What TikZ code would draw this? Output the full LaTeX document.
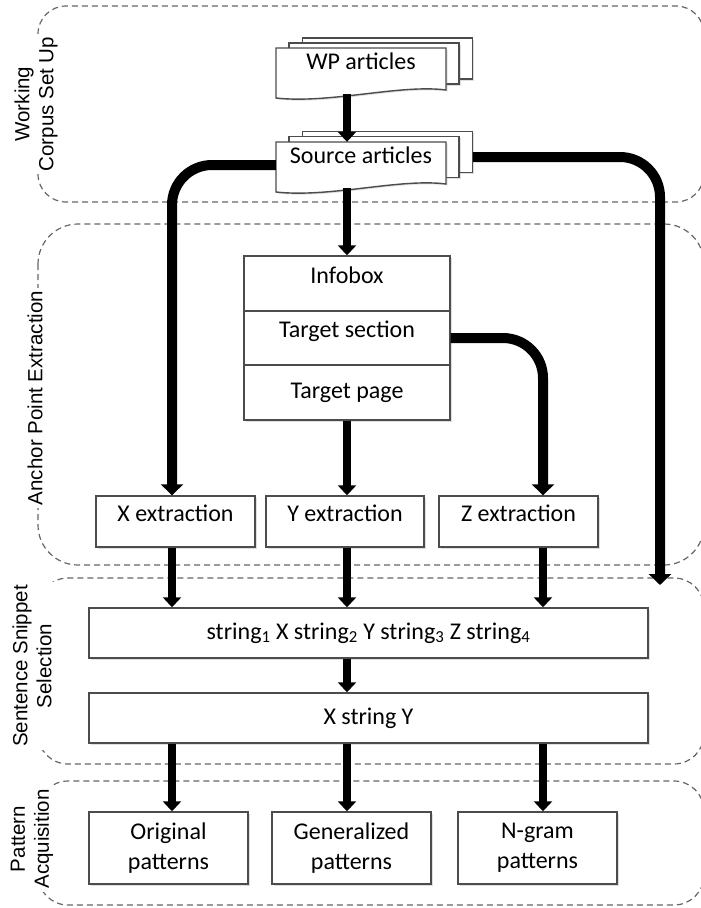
\documentclass[tikz,border=0pt]{standalone}
\usepackage{fontspec}
\setmainfont{Carlito}
\newfontfamily\sectfont{Liberation Sans}
\usetikzlibrary{arrows.meta,calc,shadows}

\tikzset{
  region/.style={draw=black!60, line width=1.2pt, dash pattern=on 6pt off 4pt, rounded corners=30pt},
  sectlabel/.style={rotate=90, fill=white, align=center, inner sep=3pt, font=\sectfont\fontsize{20.5}{24}\selectfont},
  shade/.style={drop shadow={opacity=0.25, shadow xshift=1.5pt, shadow yshift=-1.5pt}},
  box/.style={draw=black!70, line width=1.4pt, fill=white, inner sep=2pt, align=center, shade, font=\fontsize{24}{30}\selectfont},
  hightext/.style={text height=17pt, text depth=18pt},
  page/.style={box, minimum width=170pt, minimum height=41pt},
  frontpage/.style={inner sep=2pt, font=\fontsize{24}{30}\selectfont, minimum width=170pt, minimum height=46pt, text height=17pt, text depth=21pt},
  arrow/.style={line width=8pt, -{Triangle[width=18pt,length=10pt]}},
  bigarrow/.style={line width=10pt, rounded corners=40pt, -{Triangle[width=22pt,length=11pt]}},
}

% front page of a document stack, wavy bottom
\newcommand\wavypage[2]{%
  \begin{scope}[shift={(#1,#2)}]
    \draw[black!70, line width=1.4pt, fill=white, shade]
      (-85,-23) -- (85,-23) -- (85,19) .. controls (39,13) and (-31,33) .. (-85,27) -- cycle;
  \end{scope}
}

\begin{document}
\begin{tikzpicture}[x=1pt, y=-1pt]
  \fill[white] (0,0) rectangle (701,908);
  \useasboundingbox (0,0) rectangle (701,908);

  % Sections
  \draw[region, rounded corners=28pt] (38,6) rectangle (704,202);
  \draw[region, rounded corners=40pt] (38,224) rectangle (704,565);
  \draw[region] (38,578) rectangle (704,764);
  \draw[region] (38,781) rectangle (704,905);
  \node[sectlabel] (lab1) at (36,104) {Working\\Corpus Set Up};
  \node[sectlabel] (lab2) at (35,398) {Anchor Point Extraction};
  \node[sectlabel] (lab3) at (32,666) {Sentence Snippet\\Selection};
  \node[sectlabel] (lab4) at (32,839) {Pattern\\Acquisition};

  % Document stacks
  \node[page] (wp3) at (387.5,58.5) {};
  \node[page] (wp2) at (374,63.5) {};
  \wavypage{361}{71}
  \node[frontpage] (wp) at (361,71) {WP articles};
  \node[page] (src3) at (387.5,152) {};
  \node[page] (src2) at (374,157) {};
  \wavypage{361}{165}
  \node[frontpage] (src) at (361,165) {Source articles};

  % Infobox / target
  \node[box, hightext, minimum width=206pt, minimum height=55pt] (info) at (347,283.5) {Infobox};
  \node[box, hightext, minimum width=206pt, minimum height=54pt] (tsec) at (347,338) {Target section};
  \node[box, minimum width=206pt, minimum height=55pt] (tpage) at (347,392.5) {Target page};

  % Extraction
  \node[box, hightext, minimum width=159pt, minimum height=51pt] (xext) at (175.5,521.5) {X extraction};
  \node[box, hightext, minimum width=158pt, minimum height=51pt] (yext) at (345,521.5) {Y extraction};
  \node[box, hightext, minimum width=159pt, minimum height=51pt] (zext) at (518.5,521.5) {Z extraction};

  % Snippets
  \node[box, minimum width=559pt, minimum height=50pt] (str) at (368.5,633)
    {string\textsubscript{1} X string\textsubscript{2} Y string\textsubscript{3} Z string\textsubscript{4}};
  \node[box, minimum width=559pt, minimum height=50pt] (xsy) at (368.5,718) {X string Y};

  % Patterns
  \node[box, minimum width=159pt, minimum height=72pt] (orig) at (168.5,848) {Original\\patterns};
  \node[box, minimum width=159pt, minimum height=72pt] (gen) at (351.5,848) {Generalized\\patterns};
  \node[box, minimum width=159pt, minimum height=72pt] (ngram) at (537.5,848) {N-gram\\patterns};

  % Arrow columns
  \coordinate (colX) at (172,0);
  \coordinate (colY) at (347,0);
  \coordinate (colZ) at (543,0);
  \coordinate (snipin) at (660,585);

  % Arrows
  \draw[arrow] (wp.south -| colY) -- (src.north -| colY);
  \draw[arrow] (src.south -| colY) -- (info.north);
  \draw[bigarrow] (src.west) -| (xext.north -| colX);
  \draw[bigarrow] (src2.east -| src3.east) -| (snipin);
  \draw[bigarrow] (tsec.east) -| (zext.north -| colZ);
  \draw[arrow] (tpage.south) -- (yext.north -| colY);
  \foreach \n/\c in {xext/colX, yext/colY, zext/colZ}
    \draw[arrow] (\n.south -| \c) -- (str.north -| \c);
  \draw[arrow] (str.south -| colY) -- (xsy.north -| colY);
  \foreach \n/\c in {orig/colX, gen/colY, ngram/colZ}
    \draw[arrow] (xsy.south -| \c) -- (\n.north -| \c);
\end{tikzpicture}
\end{document}
